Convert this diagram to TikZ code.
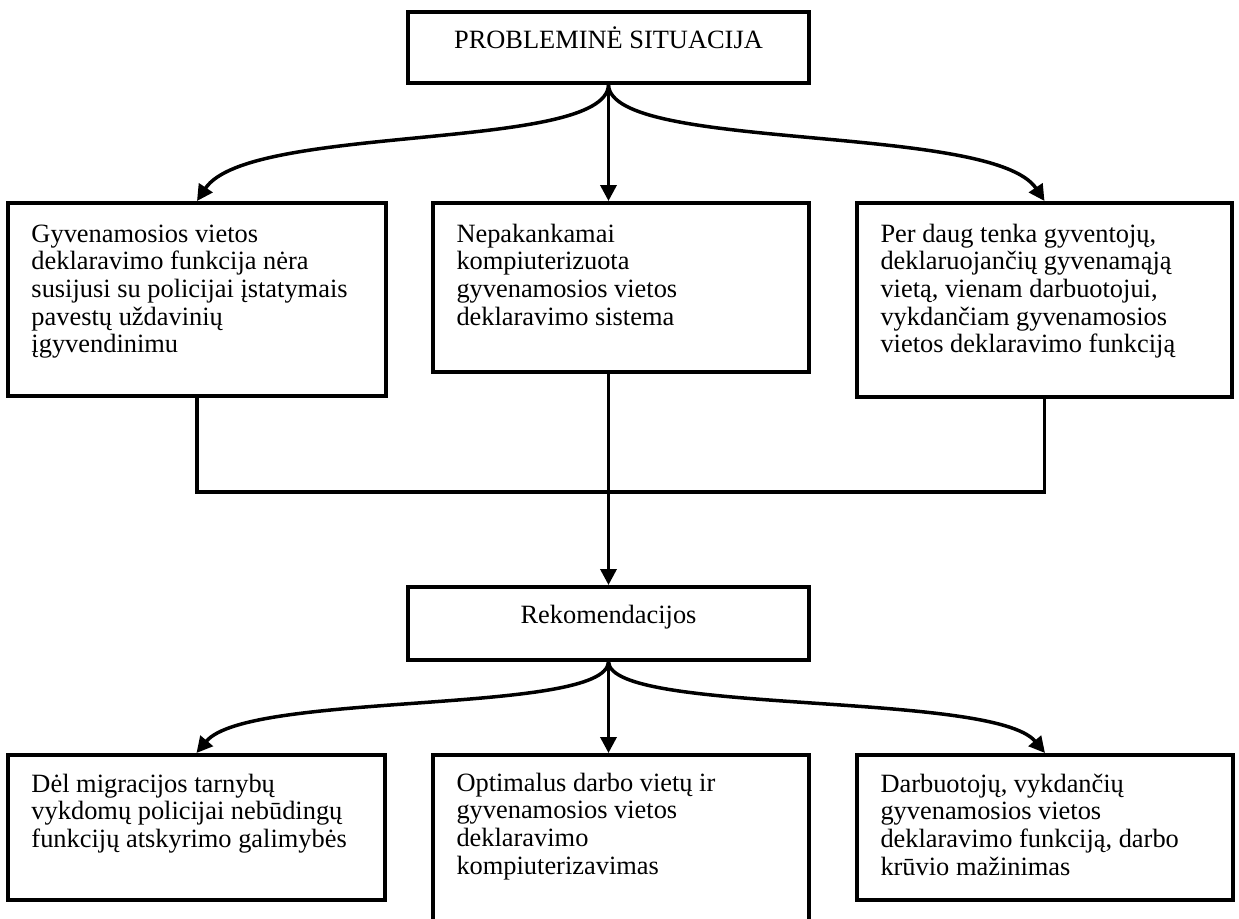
\documentclass[tikz,border=0pt]{standalone}
\usepackage{fontspec}
\setmainfont{Liberation Serif}
\usetikzlibrary{arrows.meta,calc}
\newcommand{\bxt}[4]{\parbox[c][#1][t]{#2}{\raggedright\rule{0pt}{#3}#4}}
\newcommand{\bxc}[4]{\parbox[c][#1][t]{#2}{\centering\rule{0pt}{#3}#4}}
\tikzset{
  box/.style={draw, line width=2pt, inner xsep=11.75pt, inner ysep=0pt,
    font=\fontsize{13.2}{13.85}\selectfont},
  conn/.style={line width=1.75pt},
  arr/.style={conn, -{Triangle[length=8pt,width=8pt]}}
}
\begin{document}
\begin{tikzpicture}[x=0.5pt,y=-0.5pt]
\useasboundingbox (0,0) rectangle (1239,918);
\fill[white] (0,0) rectangle (1239,918);
\clip (0,0) rectangle (1239,918);

\node[box] (top) at (608.5,47.5) {\bxc{35.5pt}{177pt}{18.3pt}{PROBLEMINĖ SITUACIJA}};

\node[box] (b1) at (197,299.5) {\bxt{96.5pt}{165.5pt}{19.5pt}{Gyvenamosios vietos\\ deklaravimo funkcija nėra\\ susijusi su policijai įstatymais\\ pavestų uždavinių\\ įgyvendinimu}};
\node[box] (b2) at (621,287.5) {\bxt{84.5pt}{164.5pt}{19.5pt}{Nepakankamai\\ kompiuterizuota\\ gyvenamosios vietos\\ deklaravimo sistema}};
\node[box] (b3) at (1044.5,300) {\bxt{97pt}{164pt}{19.5pt}{Per daug tenka gyventojų,\\ deklaruojančių gyvenamąją\\ vietą, vienam darbuotojui,\\ vykdančiam gyvenamosios\\ vietos deklaravimo funkciją}};

\node[box] (rek) at (608.5,623.5) {\bxc{36.5pt}{177pt}{18.3pt}{Rekomendacijos}};

\node[box] (c1) at (196.5,827.5) {\bxt{72.5pt}{165pt}{18.5pt}{Dėl migracijos tarnybų\\ vykdomų policijai nebūdingų\\ funkcijų atskyrimo galimybės}};
\node[box] (c2) at (621,847.5) {\bxt{92.5pt}{164.5pt}{18pt}{Optimalus darbo vietų ir\\ gyvenamosios vietos\\ deklaravimo\\ kompiuterizavimas}};
\node[box] (c3) at (1045,827.5) {\bxt{72.5pt}{164.5pt}{18.5pt}{Darbuotojų, vykdančių\\ gyvenamosios vietos\\ deklaravimo funkciją, darbo\\ krūvio mažinimas}};

% top fork
\draw[arr] (top.south) .. controls +(-3,67) and +(52,-78) .. (b1.north);
\draw[arr] (top.south) -- (top.south |- b2.north);
\draw[arr] (top.south) .. controls +(3,67) and +(-52,-78) .. (b3.north);

% collector
\coordinate (jl) at (b1.south |- 0,492);
\coordinate (jr) at (b3.south |- 0,492);
\draw[conn] (b1.south) -- (jl) -- (jr) -- (b3.south);
\draw[arr] (rek.north |- b2.south) -- (rek.north);

% bottom fork
\draw[arr] (rek.south) .. controls +(-3,53) and +(52,-62) .. (c1.north);
\draw[arr] (rek.south) -- (rek.south |- c2.north);
\draw[arr] (rek.south) .. controls +(3,53) and +(-52,-62) .. (c3.north);
\end{tikzpicture}
\end{document}
